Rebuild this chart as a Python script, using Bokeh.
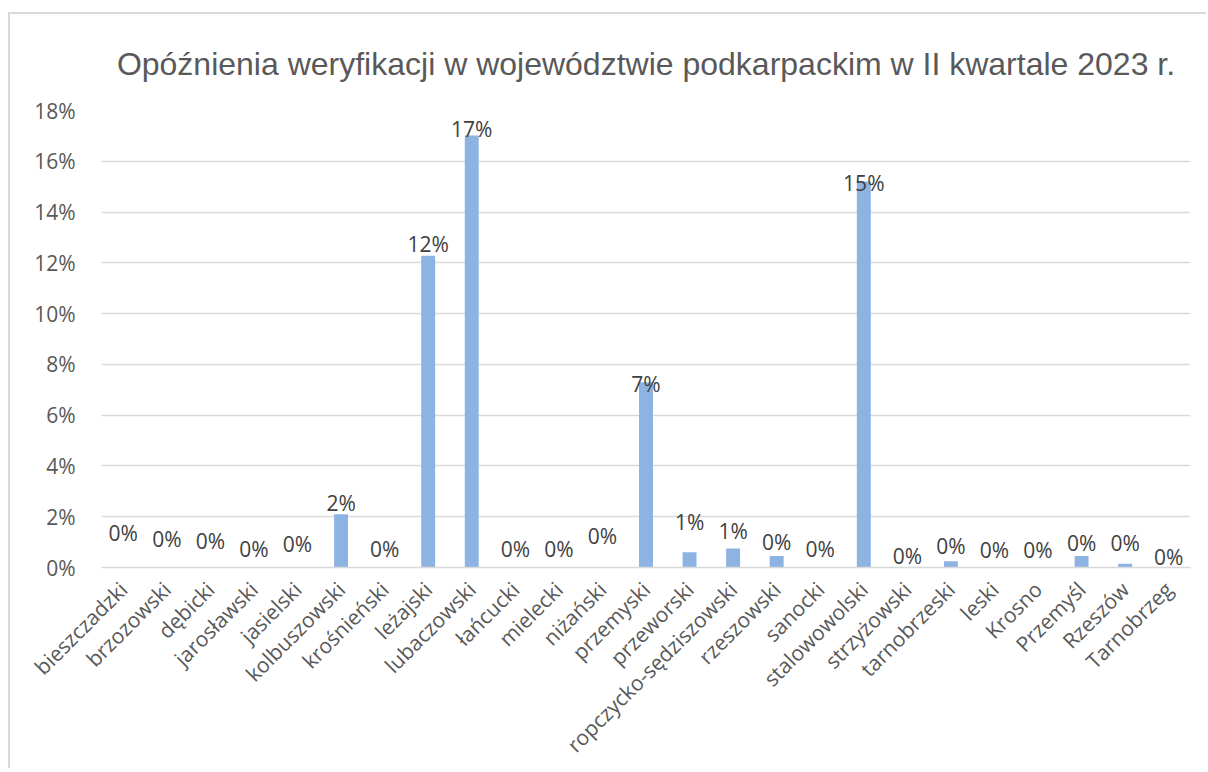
from math import pi
from bokeh.plotting import figure
from bokeh.models import ColumnDataSource, FactorRange, Range1d, NumeralTickFormatter, FixedTicker
from bokeh.core.properties import value
from bokeh.embed import file_html
from bokeh.resources import INLINE

# ---- data ----
categories = ["bieszczadzki", "brzozowski", "dębicki", "jarosławski", "jasielski",
              "kolbuszowski", "krośnieński", "leżajski", "lubaczowski", "łańcucki",
              "mielecki", "niżański", "przemyski", "przeworski", "ropczycko-sędziszowski",
              "rzeszowski", "sanocki", "stalowowolski", "strzyżowski", "tarnobrzeski",
              "leski", "Krosno", "Przemyśl", "Rzeszów", "Tarnobrzeg"]
values = [0.0, 0.0, 0.0, 0.0, 0.0,
          0.021, 0.0, 0.1228, 0.1702, 0.0,
          0.0, 0.0, 0.073, 0.006, 0.0075,
          0.0045, 0.0, 0.152, 0.0, 0.0025,
          0.0, 0.0, 0.0045, 0.0015, 0.0]
y_ticks = [0, 0.02, 0.04, 0.06, 0.08, 0.10, 0.12, 0.14, 0.16, 0.18]
title_text = "Opóźnienia weryfikacji w województwie podkarpackim w II kwartale 2023 r."

# label placement (pixels above bar top, as in the source chart)
label_lift = [35, 29, 27, 19, 24, 11, 19, 12, 6, 19, 19, 32, -2, 30, 17,
              14, 19, -1, 12, 15, 18, 18, 13, 21, 11]

labels = [f"{int(round(v * 100 + 1e-9))}%" for v in values]
src = ColumnDataSource(dict(cat=categories, val=values, lab=labels,
                            yoff=[-d for d in label_lift]))

p = figure(width=1198, height=756, output_backend="svg", toolbar_location=None,
           x_range=FactorRange(*categories, range_padding=0),
           y_range=Range1d(0, 0.18),
           min_border_left=91, min_border_right=18, min_border_top=96,
           min_border_bottom=203)
p.styles = {"margin-left": "8px", "margin-top": "12px",
            "border-left": "2px solid #d9d9d9", "border-top": "2px solid #d9d9d9"}

p.vbar(x="cat", top="val", width=0.32, source=src, color="#8DB3E2", line_color=None)
p.text(x="cat", y="val", text="lab", y_offset="yoff", source=src,
       text_align="center", text_baseline="middle",
       text_font=value("Open Sans"), text_font_size="21px", text_color="#404040")

p.title.text = title_text
p.title.align = "center"
p.title.text_font = "Liberation Sans"
p.title.text_font_size = "32px"
p.title.text_font_style = "normal"
p.title.text_color = "#595959"
p.title.standoff = 58

p.outline_line_color = None
p.xgrid.grid_line_color = None
p.ygrid.grid_line_color = "#D9D9D9"
p.ygrid.grid_line_width = 1.5

p.yaxis.ticker = FixedTicker(ticks=y_ticks)
p.yaxis.formatter = NumeralTickFormatter(format="0%")
p.yaxis.axis_line_color = None
p.yaxis.major_tick_line_color = None
p.yaxis.minor_tick_line_color = None
p.yaxis.major_label_standoff = 20
p.yaxis.major_label_text_font = "Open Sans"
p.yaxis.major_label_text_font_size = "21px"
p.yaxis.major_label_text_color = "#595959"

p.xaxis.axis_line_color = "#D9D9D9"
p.xaxis.axis_line_width = 1.5
p.xaxis.major_tick_line_color = None
p.xaxis.minor_tick_line_color = None
p.xaxis.major_label_orientation = pi / 4
p.xaxis.major_label_standoff = 12
p.xaxis.major_label_text_font = "Open Sans"
p.xaxis.major_label_text_font_size = "21px"
p.xaxis.major_label_text_color = "#595959"

open("out.html", "w").write(file_html(p, INLINE))
